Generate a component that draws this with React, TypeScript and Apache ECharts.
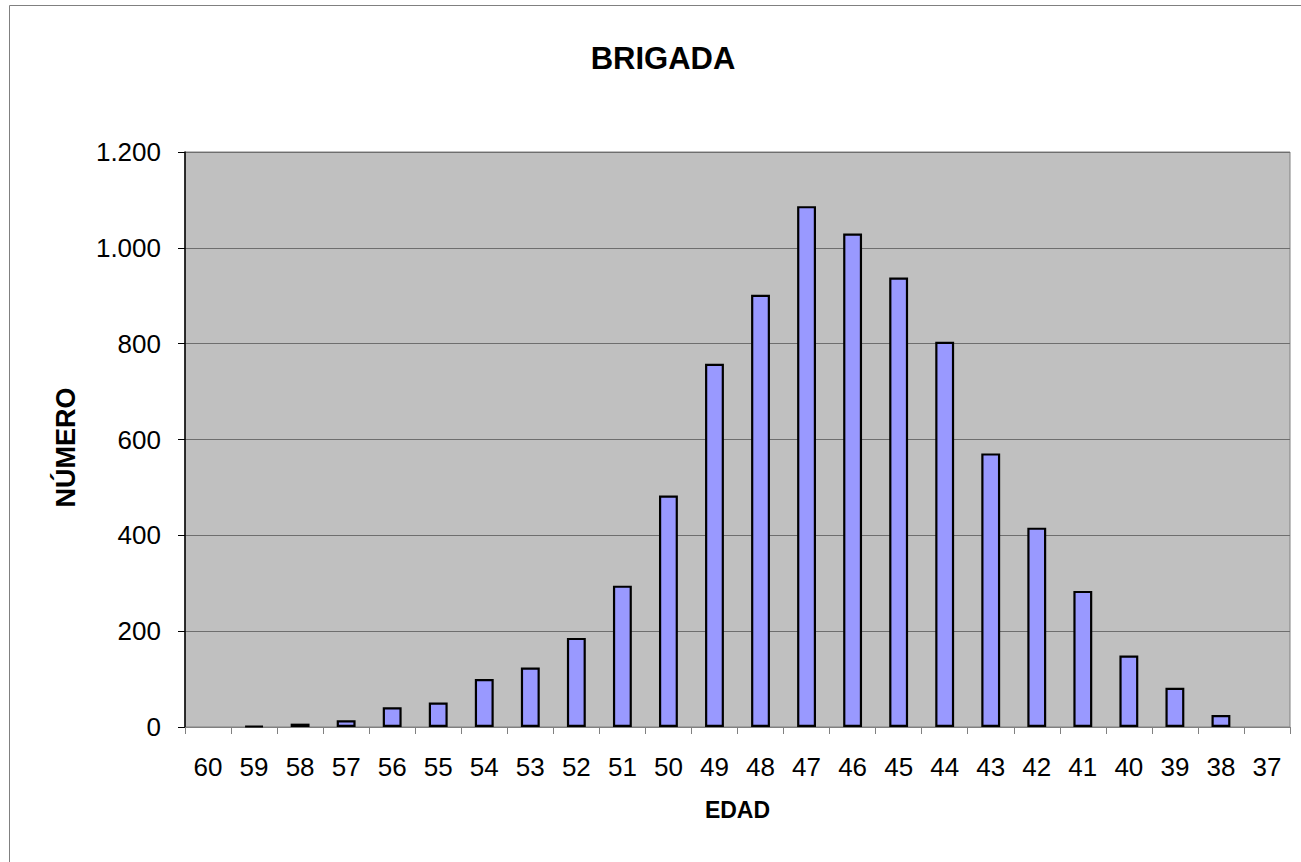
import React, { useEffect, useRef } from "react";
import * as echarts from "echarts";

const ages = ["60","59","58","57","56","55","54","53","52","51","50","49","48","47","46","45","44","43","42","41","40","39","38","37"];
const counts = [0,2,7,14,41,51,100,124,186,295,483,758,902,1087,1030,938,804,571,416,284,149,82,25,0];
const titleText = "BRIGADA";
const xName = "EDAD";
const yName = "NÚMERO";

const FONT = "'Liberation Sans', Arial, sans-serif";

export default function App() {
  const ref = useRef<HTMLDivElement>(null);
  useEffect(() => {
    if (!ref.current) return;
    const chart = echarts.init(ref.current, null, { renderer: "svg" });
    chart.setOption({
      animation: false,
      backgroundColor: "#ffffff",
      textStyle: { fontFamily: FONT },
      graphic: [
        {
          type: "rect",
          shape: { x: 9.5, y: 5.5, width: 1400, height: 1000 },
          style: { fill: "none", stroke: "#808080", lineWidth: 1 },
          silent: true,
        },
        {
          type: "text",
          x: 663,
          y: 58,
          style: {
            text: titleText,
            fontFamily: FONT,
            fontSize: 31,
            fontWeight: "bold",
            fill: "#000",
            textAlign: "center",
            textVerticalAlign: "middle",
          },
        },
      ],
      grid: {
        left: 185,
        top: 152,
        right: 11,
        bottom: 135,
        show: true,
        backgroundColor: "#c0c0c0",
        borderColor: "#808080",
        borderWidth: 1,
      },
      xAxis: {
        type: "category",
        data: ages,
        name: xName,
        nameLocation: "middle",
        nameGap: 71,
        nameTextStyle: { fontFamily: FONT, fontSize: 23, fontWeight: "bold", color: "#000", verticalAlign: "top" },
        axisLine: { lineStyle: { color: "#808080", width: 1 } },
        axisTick: { show: true, alignWithLabel: false, length: 7, lineStyle: { color: "#808080" } },
        axisLabel: { fontFamily: FONT, fontSize: 26, color: "#000", margin: 27, interval: 0 },
        splitLine: { show: false },
      },
      yAxis: {
        type: "value",
        min: 0,
        max: 1200,
        interval: 200,
        name: yName,
        nameLocation: "middle",
        nameGap: 106,
        nameTextStyle: { fontFamily: FONT, fontSize: 27, fontWeight: "bold", color: "#000", padding: [0, 16, 0, 0] },
        axisLine: { show: true, lineStyle: { color: "#000", width: 1.5 } },
        axisTick: { show: true, length: 7, lineStyle: { color: "#000" } },
        axisLabel: {
          fontFamily: FONT,
          fontSize: 26,
          color: "#000",
          margin: 24,
          formatter: (v: number) => v.toLocaleString("de-DE"),
        },
        splitLine: { show: true, lineStyle: { color: "#6e6e6e", width: 1 } },
      },
      series: [
        {
          type: "bar",
          data: counts.map((v) => (v === 0 ? null : v)),
          barWidth: "41%",
          itemStyle: { color: "#9999ff", borderColor: "#000", borderWidth: 2.2 },
        },
      ],
    });
    return () => chart.dispose();
  }, []);
  return (
    <div
      ref={ref}
      style={{ position: "absolute", left: 0, top: 0, width: 1301, height: 862 }}
    />
  );
}
